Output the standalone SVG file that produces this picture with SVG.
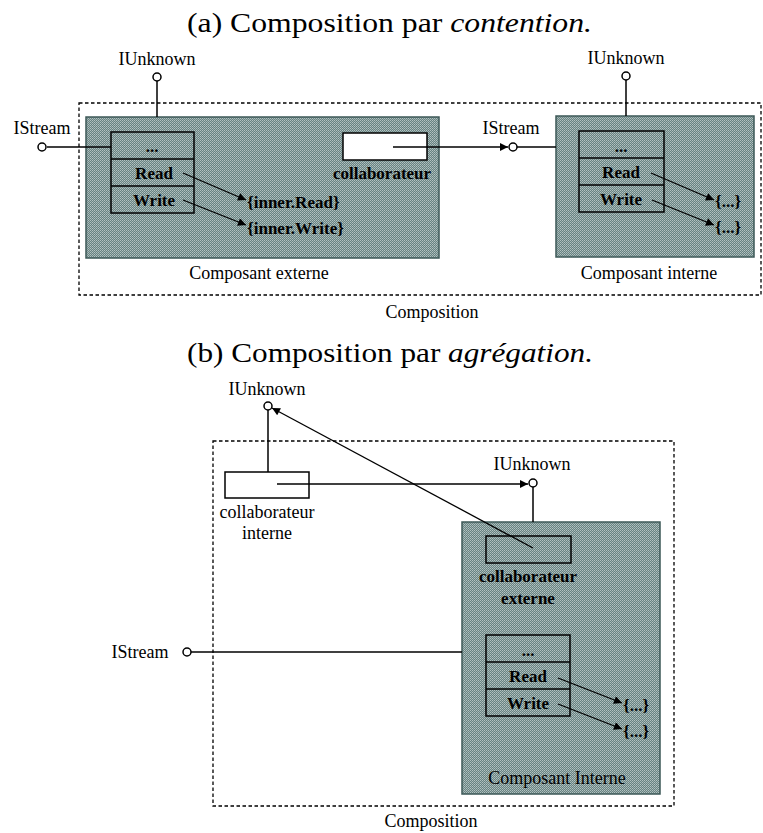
<svg xmlns="http://www.w3.org/2000/svg" width="763" height="833" viewBox="0 0 763 833">
<defs>
<pattern id="ht" width="2" height="2" patternUnits="userSpaceOnUse">
<rect width="2" height="2" fill="#678382"/>
<rect width="1" height="1" fill="#b4c2c1"/>
<rect x="1" y="1" width="1" height="1" fill="#a0b1b0"/>
</pattern>
<marker id="ah" viewBox="0 0 10 10" refX="10" refY="5" markerWidth="11" markerHeight="8" markerUnits="userSpaceOnUse" orient="auto">
<path d="M0,0 L10,5 L0,10 z" fill="#000"/>
</marker>
</defs>
<style>
text{font-family:"Liberation Serif","Times New Roman","DejaVu Serif",serif;fill:#000}
.t{font-size:18px}
.b{font-size:17px;font-weight:bold}
.title{font-size:28px;font-family:"Liberation Serif","Times New Roman",serif}
.comp{fill:url(#ht);stroke:#3d5857;stroke-width:1.5}
.dash{fill:none;stroke:#000;stroke-width:1.3;stroke-dasharray:3.5,2.5}
.ln{fill:none;stroke:#000;stroke-width:1.5}
.box{fill:none;stroke:#000;stroke-width:1.5}
.wbox{fill:#fff;stroke:#000;stroke-width:1.5}
.port{fill:#fff;stroke:#000;stroke-width:1.5}
.arr{fill:none;stroke:#000;stroke-width:1.3;marker-end:url(#ah)}
</style>
<rect width="763" height="833" fill="#fff"/>

<!-- Section (a) -->
<text class="title" x="187" y="32" textLength="405" lengthAdjust="spacingAndGlyphs">(a) Composition par <tspan font-style="italic">contention.</tspan></text>

<g id="compositionA">
<rect class="dash" x="79" y="103" width="682" height="192"/>
<text class="t" x="432" y="318" text-anchor="middle">Composition</text>
</g>

<g id="composantExterne">
<rect class="comp" x="86" y="117" width="353" height="141"/>
<rect class="box" x="111" y="132" width="83" height="81"/>
<line class="ln" x1="111" y1="159" x2="194" y2="159"/>
<line class="ln" x1="111" y1="186" x2="194" y2="186"/>
<text class="b" x="152" y="152" text-anchor="middle">...</text>
<text class="b" x="154" y="179" text-anchor="middle">Read</text>
<text class="b" x="154" y="206" text-anchor="middle">Write</text>
<text class="b" x="247" y="208">{inner.Read}</text>
<text class="b" x="247" y="234">{inner.Write}</text>
<rect class="wbox" x="343" y="133" width="84" height="27"/>
<text class="b" x="382" y="179" text-anchor="middle">collaborateur</text>
<text class="t" x="259" y="279" text-anchor="middle">Composant externe</text>
</g>

<g id="composantInterneA">
<rect class="comp" x="556" y="116" width="198" height="141"/>
<rect class="box" x="579" y="131" width="85" height="81"/>
<line class="ln" x1="579" y1="158" x2="664" y2="158"/>
<line class="ln" x1="579" y1="185" x2="664" y2="185"/>
<text class="b" x="621" y="152" text-anchor="middle">...</text>
<text class="b" x="621" y="178" text-anchor="middle">Read</text>
<text class="b" x="621" y="205" text-anchor="middle">Write</text>
<text class="b" x="715" y="207">{...}</text>
<text class="b" x="715" y="233">{...}</text>
<text class="t" x="649" y="279" text-anchor="middle">Composant interne</text>
</g>

<g id="portsA">
<text class="t" x="157" y="65" text-anchor="middle">IUnknown</text>
<text class="t" x="42" y="134" text-anchor="middle">IStream</text>
<text class="t" x="511" y="134" text-anchor="middle">IStream</text>
<text class="t" x="626" y="64" text-anchor="middle">IUnknown</text>
</g>

<g id="connectorsA">
<line class="ln" x1="157" y1="81" x2="157" y2="117"/>
<line class="ln" x1="47" y1="147" x2="111" y2="147"/>
<line class="ln" x1="626" y1="80" x2="626" y2="116"/>
<line class="ln" x1="517" y1="147" x2="556" y2="147"/>
<line class="arr" x1="393" y1="147" x2="508" y2="147"/>
<line class="arr" x1="183" y1="173" x2="246" y2="200"/>
<line class="arr" x1="183" y1="200" x2="246" y2="225"/>
<line class="arr" x1="651" y1="173" x2="714" y2="200"/>
<line class="arr" x1="652" y1="200" x2="714" y2="225"/>
<circle class="port" cx="157" cy="77" r="4"/>
<circle class="port" cx="42" cy="147" r="4"/>
<circle class="port" cx="513" cy="147" r="4"/>
<circle class="port" cx="626" cy="76" r="4"/>
</g>

<!-- Section (b) -->
<text class="title" x="187" y="362" textLength="406" lengthAdjust="spacingAndGlyphs">(b) Composition par <tspan font-style="italic">agrégation.</tspan></text>

<g id="compositionB">
<rect class="dash" x="213" y="441" width="461" height="365"/>
<text class="t" x="431" y="827" text-anchor="middle">Composition</text>
</g>

<g id="collaborateurInterne">
<rect class="wbox" x="225" y="472" width="84" height="26"/>
<text class="t" x="267" y="518" text-anchor="middle">collaborateur</text>
<text class="t" x="267" y="539" text-anchor="middle">interne</text>
</g>

<g id="composantInterneB">
<rect class="comp" x="462" y="522" width="198" height="272"/>
<rect class="box" x="486" y="536" width="85" height="27"/>
<text class="b" x="528" y="582" text-anchor="middle">collaborateur</text>
<text class="b" x="528" y="604" text-anchor="middle">externe</text>
<rect class="box" x="486" y="635" width="84" height="81"/>
<line class="ln" x1="486" y1="662" x2="570" y2="662"/>
<line class="ln" x1="486" y1="689" x2="570" y2="689"/>
<text class="b" x="528" y="656" text-anchor="middle">...</text>
<text class="b" x="528" y="682" text-anchor="middle">Read</text>
<text class="b" x="528" y="709" text-anchor="middle">Write</text>
<text class="b" x="623" y="711">{...}</text>
<text class="b" x="623" y="737">{...}</text>
<text class="t" x="557" y="784" text-anchor="middle">Composant Interne</text>
</g>

<g id="portsB">
<text class="t" x="267" y="395" text-anchor="middle">IUnknown</text>
<text class="t" x="532" y="470" text-anchor="middle">IUnknown</text>
<text class="t" x="140" y="658" text-anchor="middle">IStream</text>
</g>

<g id="connectorsB">
<line class="ln" x1="268" y1="410" x2="268" y2="472"/>
<line class="ln" x1="533" y1="487" x2="533" y2="522"/>
<line class="ln" x1="191" y1="652" x2="462" y2="652"/>
<line class="arr" x1="277" y1="484" x2="528" y2="484"/>
<line class="arr" x1="533" y1="548" x2="272" y2="408"/>
<line class="arr" x1="558" y1="678" x2="622" y2="703"/>
<line class="arr" x1="558" y1="704" x2="622" y2="729"/>
<circle class="port" cx="268" cy="406" r="4"/>
<circle class="port" cx="533" cy="483" r="4"/>
<circle class="port" cx="187" cy="652" r="4"/>
</g>
</svg>
